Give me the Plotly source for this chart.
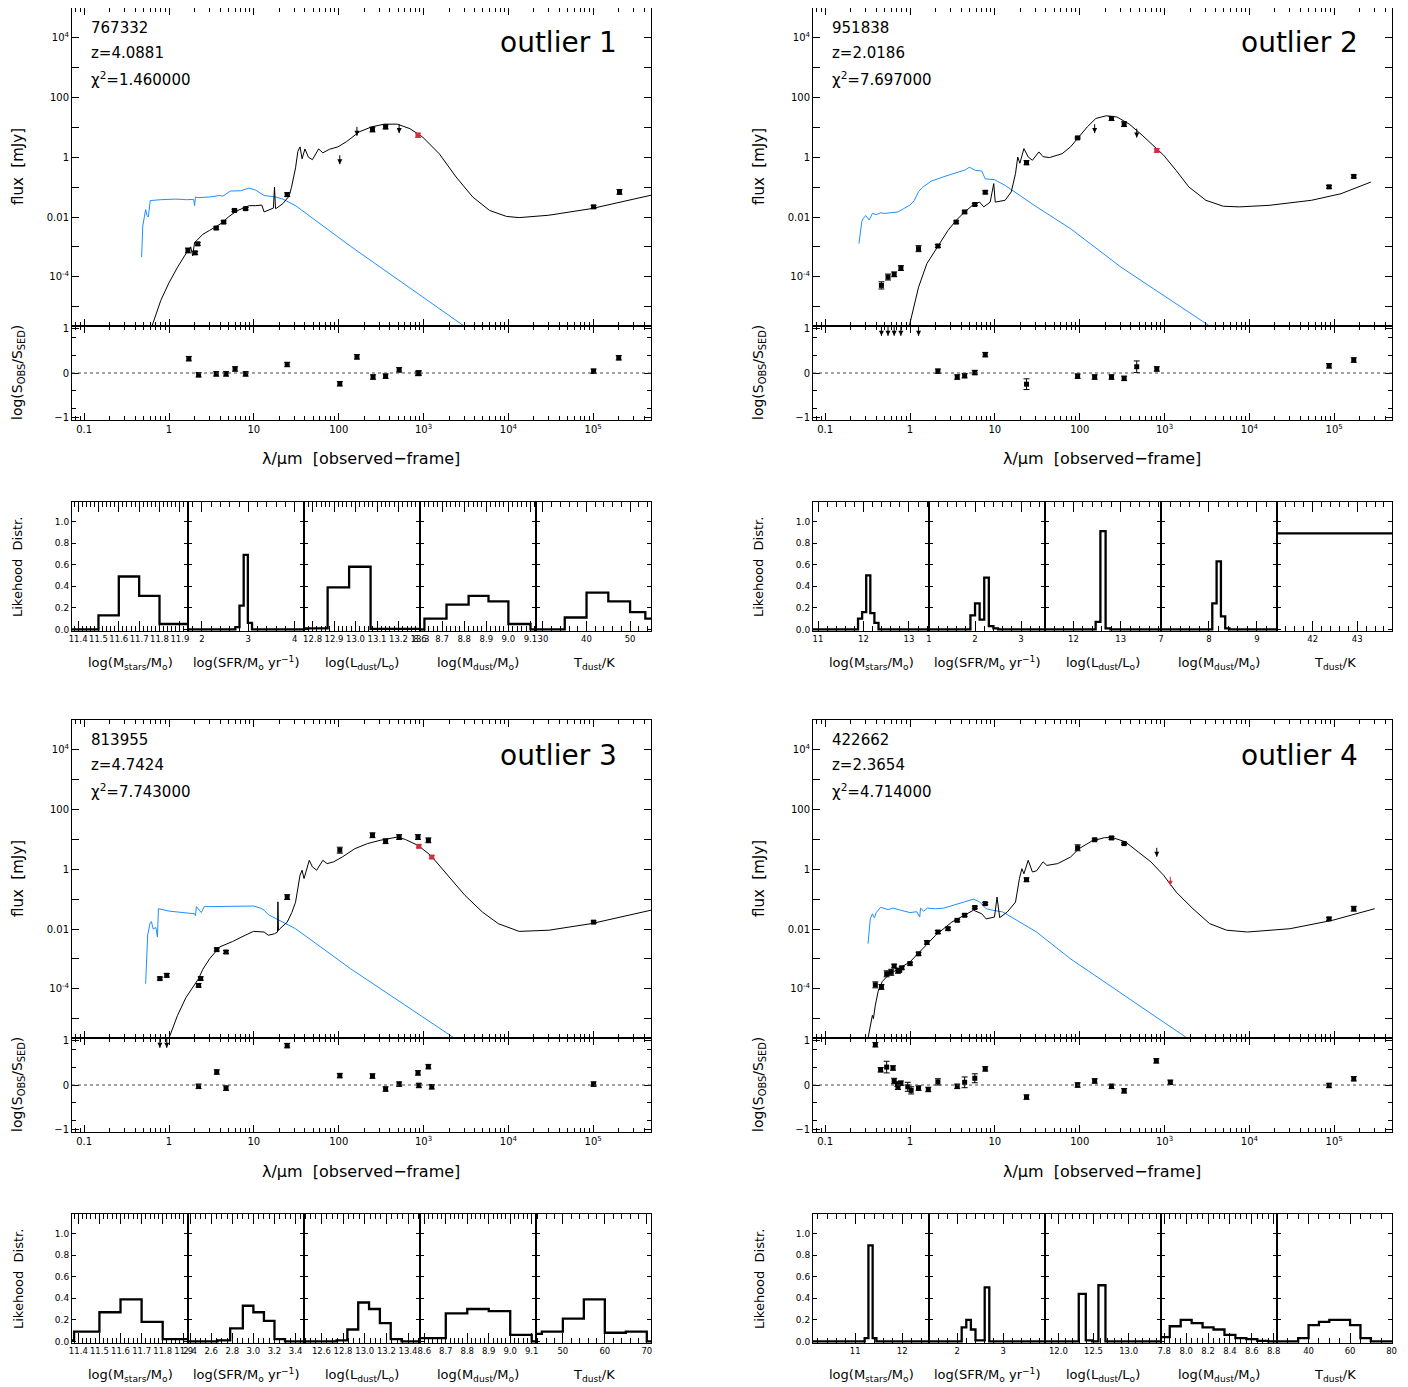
import numpy as np
import plotly.graph_objects as go

# page body has an 8px default margin: the figure is drawn 8px smaller and all
# layout positions below are given in page pixels, shifted by that margin
PAGE_W, PAGE_H = 1408, 1387
OFF = 8
W, H = PAGE_W - OFF, PAGE_H - OFF
FONT = "DejaVu Sans"
BLUE = "#1E8FFF"
RED = "#D0303C"

# ------------------------------------------------------------------ labels
ids = ["767332", "951838", "813955", "422662"]
zvals = ["4.0881", "2.0186", "4.7424", "2.3654"]
chi2vals = ["1.460000", "7.697000", "7.743000", "4.714000"]
names = ["outlier 1", "outlier 2", "outlier 3", "outlier 4"]
hist_titles = ["log(M<sub>stars</sub>/M<sub>o</sub>)", "log(SFR/M<sub>o</sub> yr<sup>−1</sup>)",
               "log(L<sub>dust</sub>/L<sub>o</sub>)", "log(M<sub>dust</sub>/M<sub>o</sub>)", "T<sub>dust</sub>/K"]
sed_xticks = [0.1, 1, 10, 100, 1e3, 1e4, 1e5]
sed_xtext = ["0.1", "1", "10", "100", "10<sup>3</sup>", "10<sup>4</sup>", "10<sup>5</sup>"]

# ------------------------------------------------------------------ outlier 1
blue1_lam = [0.475, 0.49, 0.53, 0.55, 0.57, 0.6, 0.8, 1.2, 1.6, 1.95, 2.0, 2.05, 2.2, 3.0, 3.9, 4.3, 5.3, 7.0, 8.8, 10.5, 13.2, 18, 22, 31, 138, 3000]
blue1_logf = [-3.34, -2.3, -1.75, -1.95, -2.0, -1.45, -1.42, -1.40, -1.42, -1.41, -1.62, -1.33, -1.35, -1.33, -1.28, -1.30, -1.13, -1.12, -1.03, -1.10, -1.28, -1.33, -1.40, -1.62, -2.98, -5.65]
sed1_lam = [0.63, 0.8, 1.0, 1.26, 1.58, 1.8, 1.9, 2.0, 2.1, 2.5, 3.0, 3.5, 4.2, 5.0, 6.25, 7.5, 8.8, 10.5, 12.4, 13.2, 15.6, 17.0, 17.5, 18.0, 18.6, 22, 26, 27.8, 31, 33, 35, 37, 40, 44, 49, 58, 65, 78, 98, 123, 174, 245, 345, 490, 690, 975, 1530, 2420, 3800, 6000, 9500, 13400, 30000, 95000, 480000]
sed1_logf = [-5.65, -4.79, -4.2, -3.68, -3.23, -3.0, -3.3, -2.85, -2.8, -2.58, -2.45, -2.34, -2.2, -2.0, -1.8, -1.7, -1.62, -1.62, -1.6, -1.83, -1.75, -1.7, -1.0, -1.72, -1.7, -1.55, -1.3, -1.0, -0.35, 0.2, 0.35, -0.05, 0.28, 0.0, -0.08, 0.28, 0.15, 0.27, 0.35, 0.52, 0.85, 1.02, 1.11, 1.11, 0.96, 0.68, 0.12, -0.66, -1.33, -1.78, -1.98, -2.02, -1.94, -1.72, -1.27]
obs1_lam = [1.67, 2.03, 2.18, 3.6, 4.4, 5.9, 8.0, 24.7, 250, 357, 1.01e5, 2.04e5]
obs1_logf = [-3.12, -3.2, -2.9, -2.37, -2.17, -1.78, -1.72, -1.25, 0.93, 1.02, -1.66, -1.16]
obs1_err = [0.08, 0.05, 0.05, 0.04, 0.04, 0.04, 0.04, 0.06, 0.08, 0.07, 0.05, 0.08]
ul1_lam = [103, 164, 516]
ul1_logf = [0.07, 1.02, 1.11]
red1_lam = [860]
red1_logf = [0.74]
red1_err = [0.07]
redul1_lam, redul1_logf = [], []
res1_lam = [1.71, 2.23, 3.6, 4.7, 6.0, 8.0, 24.7, 103, 164, 254, 357, 516, 860, 880, 1.01e5, 2.0e5]
res1_val = [0.32, -0.04, -0.02, -0.02, 0.09, -0.02, 0.19, -0.24, 0.36, -0.09, -0.07, 0.07, -0.01, 0.0, 0.04, 0.34]
res1_err = [0.05] * 16
resul1_lam = []
hist1_range = [[11.37, 11.94], [1.7, 4.2], [12.76, 13.3], [8.6, 9.125], [28.4, 54.8]]
hist1_ticks = [[11.4, 11.5, 11.6, 11.7, 11.8, 11.9], [2, 3, 4], [12.8, 12.9, 13.0, 13.1, 13.2, 13.3], [8.6, 8.7, 8.8, 8.9, 9.0, 9.1], [30, 40, 50]]
hist1_minor = [0.02, 0.2, 0.02, 0.02, 2]
hist1_edges = [[11.37, 11.5, 11.6, 11.7, 11.8, 11.94], [1.7, 2.72, 2.81, 2.9, 2.99, 3.08, 4.2],
               [12.76, 12.87, 12.97, 13.07, 13.3], [8.6, 8.62, 8.72, 8.82, 8.91, 9.0, 9.1, 9.125],
               [28.4, 35, 40, 45, 50, 53.5, 54.8]]
hist1_vals = [[0.0, 0.13, 0.49, 0.31, 0.05], [0.0, 0.02, 0.22, 0.69, 0.06, 0.0],
              [0.01, 0.39, 0.58, 0.005], [0.0, 0.1, 0.23, 0.31, 0.26, 0.05, 0.0],
              [0.0, 0.11, 0.34, 0.26, 0.16, 0.10]]

# ------------------------------------------------------------------ outlier 2
blue2_lam = [0.25, 0.27, 0.28, 0.30, 0.33, 0.36, 0.4, 0.45, 0.5, 0.6, 0.72, 0.84, 1.0, 1.12, 1.26, 1.41, 1.78, 2.5, 3.5, 4.5, 5.0, 5.9, 7.0, 7.7, 9.9, 13.2, 31, 78, 307, 3400]
blue2_logf = [-2.89, -2.15, -2.05, -1.95, -2.1, -1.88, -1.92, -1.86, -1.88, -1.85, -1.83, -1.72, -1.6, -1.45, -1.15, -1.0, -0.8, -0.65, -0.53, -0.42, -0.33, -0.44, -0.46, -0.72, -0.75, -0.94, -1.66, -2.39, -3.68, -5.65]
sed2_lam = [0.98, 1.12, 1.26, 1.58, 2.1, 2.8, 3.5, 4.4, 5.6, 6.6, 7.4, 8.8, 9.7, 10.1, 13.2, 15.6, 17.5, 18.6, 19.7, 22, 24.7, 27.7, 33, 37, 44, 62, 78, 98, 123, 155, 205, 275, 384, 545, 770, 975, 1370, 1930, 3070, 4930, 7600, 17000, 54000, 120000, 270000]
sed2_logf = [-5.65, -5.0, -4.35, -3.56, -3.0, -2.45, -2.11, -1.83, -1.58, -1.5, -1.66, -1.5, -0.88, -1.5, -1.44, -1.16, -0.55, 0.01, -0.2, 0.29, 0.01, -0.1, 0.18, 0.02, -0.01, 0.12, 0.35, 0.68, 1.02, 1.3, 1.39, 1.35, 1.11, 0.74, 0.35, 0.07, -0.44, -0.99, -1.44, -1.64, -1.66, -1.61, -1.44, -1.22, -0.83]
obs2_lam = [0.46, 0.55, 0.65, 0.78, 1.26, 2.13, 3.5, 4.4, 5.8, 7.7, 23.6, 94.5, 237, 334, 87000, 170000]
obs2_logf = [-4.29, -4.01, -3.92, -3.71, -3.06, -2.97, -2.17, -1.83, -1.58, -1.17, -0.18, 0.65, 1.3, 1.11, -0.99, -0.64]
obs2_err = [0.12, 0.1, 0.08, 0.08, 0.1, 0.05, 0.04, 0.04, 0.04, 0.05, 0.07, 0.03, 0.07, 0.08, 0.05, 0.05]
ul2_lam = [150, 470]
ul2_logf = [1.11, 0.96]
red2_lam = [810]
red2_logf = [0.23]
red2_err = [0.06]
redul2_lam, redul2_logf = [], []
res2_lam = [2.13, 3.6, 4.4, 5.8, 7.7, 23.6, 94.5, 150, 237, 334, 470, 810, 87000, 170000]
res2_val = [0.04, -0.09, -0.06, 0.01, 0.41, -0.25, -0.07, -0.09, -0.09, -0.12, 0.14, 0.09, 0.16, 0.29]
res2_err = [0.05, 0.05, 0.05, 0.05, 0.05, 0.12, 0.05, 0.05, 0.05, 0.05, 0.13, 0.05, 0.05, 0.05]
resul2_lam = [0.46, 0.55, 0.65, 0.78, 1.26]
hist2_range = [[10.89, 13.44], [1.0, 3.52], [11.4, 13.85], [7.0, 9.42], [41.2, 43.78]]
hist2_ticks = [[11, 12, 13], [1, 2, 3], [12, 13], [7, 8, 9], [42, 43]]
hist2_minor = [0.2, 0.2, 0.2, 0.2, 0.2]
hist2_edges = [[10.89, 11.88, 11.97, 12.06, 12.15, 12.24, 12.33, 13.44], [1.0, 1.9, 2.0, 2.1, 2.2, 2.3, 2.4, 2.5, 3.52],
               [11.4, 12.47, 12.57, 12.68, 12.78, 13.85], [7.0, 8.07, 8.16, 8.25, 8.34, 8.43, 9.42], [41.2, 43.78]]
hist2_vals = [[0, 0.1, 0.16, 0.5, 0.15, 0.06, 0], [0, 0.13, 0.24, 0.09, 0.48, 0.03, 0.01, 0],
              [0, 0.07, 0.91, 0.01, 0], [0, 0.24, 0.63, 0.12, 0.01, 0], [0.89]]

# ------------------------------------------------------------------ outlier 3
blue3_lam = [0.53, 0.545, 0.56, 0.6, 0.62, 0.65, 0.7, 0.73, 0.735, 0.75, 1.0, 1.5, 2.0, 2.05, 2.1, 2.4, 2.6, 3.0, 3.95, 5.6, 9.9, 12.0, 13.2, 14.8, 19.7, 31, 138, 2300]
blue3_logf = [-3.83, -2.6, -2.2, -1.78, -1.75, -2.0, -1.95, -2.27, -1.32, -1.32, -1.4, -1.45, -1.49, -1.55, -1.25, -1.45, -1.25, -1.25, -1.24, -1.23, -1.23, -1.3, -1.37, -1.52, -1.70, -1.99, -3.33, -5.65]
sed3_lam = [1.0, 1.26, 1.58, 2.0, 2.23, 2.5, 3.0, 3.95, 5.6, 7.9, 9.9, 13.2, 14.8, 17.5, 19.0, 19.2, 19.5, 20.1, 24.7, 28, 31, 35, 37, 39, 45, 49, 55, 65, 73, 87, 110, 155, 218, 307, 490, 610, 860, 1210, 1930, 3070, 4930, 7600, 13400, 30000, 95000, 480000]
sed3_logf = [-5.65, -4.89, -4.3, -3.85, -3.66, -3.35, -3.0, -2.6, -2.42, -2.21, -2.08, -2.1, -2.21, -2.16, -2.1, -1.09, -2.05, -2.0, -1.77, -1.45, -1.1, -0.2, -0.03, -0.31, 0.3, 0.08, -0.03, 0.3, 0.19, 0.25, 0.41, 0.69, 0.86, 0.97, 1.08, 1.0, 0.8, 0.47, -0.2, -0.87, -1.43, -1.82, -2.08, -2.04, -1.82, -1.37]
obs3_lam = [0.78, 0.94, 2.23, 2.36, 3.65, 4.7, 24.7, 103, 250, 357, 516, 860, 1140, 1.01e5]
obs3_logf = [-3.66, -3.55, -3.89, -3.66, -2.69, -2.77, -0.93, 0.64, 1.14, 0.94, 1.08, 1.08, 0.97, -1.77]
obs3_err = [0.05, 0.06, 0.06, 0.06, 0.05, 0.05, 0.08, 0.1, 0.08, 0.08, 0.08, 0.08, 0.08, 0.04]
ul3_lam, ul3_logf = [], []
red3_lam = [880, 1250]
red3_logf = [0.77, 0.41]
red3_err = [0.05, 0.05]
redul3_lam, redul3_logf = [], []
res3_lam = [2.23, 3.65, 4.7, 24.7, 103, 250, 357, 516, 860, 880, 1140, 1250, 1.01e5]
res3_val = [-0.03, 0.29, -0.07, 0.88, 0.21, 0.2, -0.09, 0.02, 0.27, -0.01, 0.41, -0.04, 0.02]
res3_err = [0.05] * 13
resul3_lam = [0.78, 0.94]
hist3_range = [[11.37, 11.92], [2.38, 3.48], [12.44, 13.51], [8.58, 9.12], [43.6, 71]]
hist3_ticks = [[11.4, 11.5, 11.6, 11.7, 11.8, 11.9], [2.4, 2.6, 2.8, 3.0, 3.2, 3.4], [12.6, 12.8, 13.0, 13.2, 13.4], [8.6, 8.7, 8.8, 8.9, 9.0, 9.1], [50, 60, 70]]
hist3_minor = [0.02, 0.05, 0.05, 0.02, 2]
hist3_edges = [[11.37, 11.38, 11.5, 11.6, 11.7, 11.8, 11.92], [2.38, 2.66, 2.78, 2.9, 3.0, 3.1, 3.2, 3.3, 3.48],
               [12.44, 12.74, 12.84, 12.94, 13.04, 13.14, 13.24, 13.34, 13.51], [8.58, 8.7, 8.8, 8.9, 9.0, 9.1, 9.12],
               [43.6, 45, 50, 55, 60, 65, 70, 71]]
hist3_vals = [[0.01, 0.09, 0.27, 0.39, 0.18, 0.02], [0, 0.01, 0.12, 0.33, 0.27, 0.19, 0.02, 0],
              [0, 0.01, 0.11, 0.36, 0.30, 0.17, 0.02, 0], [0.03, 0.26, 0.30, 0.28, 0.06, 0],
              [0.07, 0.09, 0.21, 0.39, 0.08, 0.09, 0]]

# ------------------------------------------------------------------ outlier 4
blue4_lam = [0.32, 0.33, 0.34, 0.36, 0.38, 0.4, 0.45, 0.55, 0.63, 0.8, 1.0, 1.2, 1.3, 1.33, 1.45, 1.6, 2.0, 2.5, 3.1, 4.4, 5.6, 6.6, 7.9, 9.0, 12.4, 31, 78, 1840]
blue4_logf = [-2.49, -1.95, -1.66, -1.49, -1.62, -1.45, -1.27, -1.35, -1.3, -1.38, -1.45, -1.42, -1.6, -1.3, -1.4, -1.3, -1.32, -1.3, -1.21, -1.09, -1.0, -1.09, -1.32, -1.36, -1.43, -2.1, -3.0, -5.65]
sed4_lam = [0.32, 0.34, 0.36, 0.37, 0.39, 0.42, 0.47, 0.56, 0.75, 1.0, 1.41, 2.0, 3.1, 4.4, 5.6, 7.0, 7.9, 9.9, 10.6, 11.4, 14, 17.5, 19.5, 20.8, 22, 24.7, 27.7, 31, 37, 41, 55, 78, 98, 138, 195, 245, 345, 490, 690, 975, 1370, 2160, 3400, 5400, 9500, 30000, 95000, 300000]
sed4_logf = [-5.65, -5.2, -4.89, -5.0, -4.55, -4.1, -3.76, -3.53, -3.3, -3.1, -2.66, -2.21, -1.77, -1.54, -1.37, -1.49, -1.66, -1.6, -0.93, -1.62, -1.43, -1.1, -0.3, 0.02, -0.15, 0.3, -0.09, -0.05, 0.25, 0.13, 0.19, 0.41, 0.69, 0.94, 1.06, 1.06, 0.92, 0.58, 0.25, -0.2, -0.76, -1.32, -1.82, -2.04, -2.1, -1.99, -1.71, -1.32]
obs4_lam = [0.39, 0.46, 0.53, 0.6, 0.65, 0.72, 0.75, 0.8, 1.0, 1.26, 1.58, 2.13, 2.8, 3.6, 4.4, 5.8, 7.7, 23.6, 94.5, 150, 237, 334, 87000, 170000]
obs4_logf = [-3.87, -3.94, -3.5, -3.45, -3.24, -3.4, -3.38, -3.3, -3.16, -2.83, -2.45, -2.1, -1.99, -1.71, -1.54, -1.28, -1.15, -0.35, 0.72, 0.99, 1.05, 0.86, -1.66, -1.32]
obs4_err = [0.1, 0.08, 0.1, 0.1, 0.06, 0.08, 0.06, 0.05, 0.05, 0.05, 0.06, 0.05, 0.05, 0.04, 0.04, 0.04, 0.04, 0.06, 0.1, 0.03, 0.05, 0.03, 0.05, 0.08]
ul4_lam = [810]
ul4_logf = [0.72]
red4_lam, red4_logf, red4_err = [], [], []
redul4_lam = [1170]
redul4_logf = [-0.25]
res4_lam = [0.39, 0.45, 0.53, 0.63, 0.65, 0.71, 0.72, 0.78, 0.94, 1.03, 1.26, 1.64, 2.13, 3.6, 4.4, 5.8, 7.7, 23.6, 94.5, 150, 237, 334, 800, 1170, 87000, 170000]
res4_val = [0.9, 0.34, 0.4, 0.38, 0.09, 0.02, -0.05, 0.04, -0.04, -0.12, -0.07, -0.1, 0.07, -0.03, 0.06, 0.15, 0.36, -0.27, 0.0, 0.09, -0.03, -0.13, 0.54, 0.06, -0.01, 0.14]
res4_err = [0.05, 0.05, 0.13, 0.05, 0.06, 0.05, 0.05, 0.05, 0.1, 0.08, 0.05, 0.05, 0.07, 0.05, 0.12, 0.1, 0.05, 0.05, 0.05, 0.05, 0.05, 0.05, 0.05, 0.05, 0.05, 0.05]
resul4_lam = []
hist4_range = [[10.1, 12.57], [1.39, 3.91], [11.81, 13.46], [7.77, 8.83], [24.8, 80.2]]
hist4_ticks = [[11, 12], [2, 3], [12.0, 12.5, 13.0], [7.8, 8.0, 8.2, 8.4, 8.6, 8.8], [40, 60, 80]]
hist4_minor = [0.2, 0.2, 0.1, 0.05, 5]
hist4_edges = [[10.1, 11.2, 11.28, 11.37, 11.45, 12.57], [1.39, 2.1, 2.2, 2.3, 2.4, 2.5, 2.6, 2.7, 3.91],
               [11.81, 12.29, 12.39, 12.48, 12.57, 12.67, 13.46],
               [7.77, 7.85, 7.95, 8.05, 8.15, 8.25, 8.35, 8.45, 8.55, 8.65, 8.75, 8.83],
               [24.8, 35, 40, 45, 50, 55, 60, 65, 70, 80.2]]
hist4_vals = [[0, 0.03, 0.89, 0.03, 0], [0, 0.13, 0.2, 0.11, 0.01, 0.01, 0.5, 0],
              [0, 0.44, 0.01, 0, 0.52, 0], [0.04, 0.14, 0.2, 0.17, 0.13, 0.11, 0.06, 0.03, 0.02, 0.005, 0],
              [0, 0.03, 0.15, 0.18, 0.2, 0.2, 0.15, 0.03, 0]]

outliers = [
    dict(blue=(blue1_lam, blue1_logf), sed=(sed1_lam, sed1_logf), obs=(obs1_lam, obs1_logf, obs1_err),
         ul=(ul1_lam, ul1_logf), red=(red1_lam, red1_logf, red1_err), redul=(redul1_lam, redul1_logf),
         res=(res1_lam, res1_val, res1_err), resul=resul1_lam,
         hr=hist1_range, ht=hist1_ticks, hm=hist1_minor, he=hist1_edges, hv=hist1_vals),
    dict(blue=(blue2_lam, blue2_logf), sed=(sed2_lam, sed2_logf), obs=(obs2_lam, obs2_logf, obs2_err),
         ul=(ul2_lam, ul2_logf), red=(red2_lam, red2_logf, red2_err), redul=(redul2_lam, redul2_logf),
         res=(res2_lam, res2_val, res2_err), resul=resul2_lam,
         hr=hist2_range, ht=hist2_ticks, hm=hist2_minor, he=hist2_edges, hv=hist2_vals),
    dict(blue=(blue3_lam, blue3_logf), sed=(sed3_lam, sed3_logf), obs=(obs3_lam, obs3_logf, obs3_err),
         ul=(ul3_lam, ul3_logf), red=(red3_lam, red3_logf, red3_err), redul=(redul3_lam, redul3_logf),
         res=(res3_lam, res3_val, res3_err), resul=resul3_lam,
         hr=hist3_range, ht=hist3_ticks, hm=hist3_minor, he=hist3_edges, hv=hist3_vals),
    dict(blue=(blue4_lam, blue4_logf), sed=(sed4_lam, sed4_logf), obs=(obs4_lam, obs4_logf, obs4_err),
         ul=(ul4_lam, ul4_logf), red=(red4_lam, red4_logf, red4_err), redul=(redul4_lam, redul4_logf),
         res=(res4_lam, res4_val, res4_err), resul=resul4_lam,
         hr=hist4_range, ht=hist4_ticks, hm=hist4_minor, he=hist4_edges, hv=hist4_vals),
]

# ------------------------------------------------------------------ helpers
fig = go.Figure()
lay = dict(width=W, height=H, margin=dict(l=0, r=0, t=0, b=0, pad=0, autoexpand=False),
           autosize=False, paper_bgcolor="white",
           plot_bgcolor="white", showlegend=False, hovermode=False, annotations=[], shapes=[])
naxes = [0]


def px2x(x):
    return (x - OFF) / W


def px2y(y):
    return 1 - (y - OFF) / H


def axis_style(**kw):
    d = dict(showline=True, linecolor="black", linewidth=1, mirror="ticks", ticks="inside",
             tickcolor="black", tickwidth=1, showgrid=False, zeroline=False, layer="above traces",
             tickangle=0, automargin=False,
             tickfont=dict(family=FONT, size=10, color="black"))
    d.update(kw)
    return d


def new_axes(x0, x1, y0, y1, xa, ya):
    naxes[0] += 1
    n = naxes[0]
    s = "" if n == 1 else str(n)
    lay["xaxis" + s] = dict(domain=[px2x(x0), px2x(x1)], anchor="y" + s, **xa)
    lay["yaxis" + s] = dict(domain=[px2y(y1), px2y(y0)], anchor="x" + s, **ya)
    return "x" + s, "y" + s


def text(x, y, s, size, xanchor="center", angle=0):
    lay["annotations"].append(dict(x=px2x(x), y=px2y(y), xref="paper", yref="paper", text=s,
                                   showarrow=False, xanchor=xanchor, yanchor="middle", textangle=angle,
                                   font=dict(family=FONT, size=size, color="black")))


def logerr(logf, err):
    f = 10 ** np.asarray(logf, float)
    e = np.asarray(err, float)
    return f, f * (10 ** e - 1), f * (1 - 10 ** (-e))


def fmt_ticks(vals):
    if all(abs(v - round(v)) < 1e-9 for v in vals):
        return [str(int(round(v))) for v in vals]
    return [f"{v:.1f}" for v in vals]


def add_arrows(lams, tops, bottoms, color, xa, ya):
    """Upper-limit arrows: vertical stem plus downward arrow head."""
    xs, ys = [], []
    for l, t, b in zip(lams, tops, bottoms):
        xs += [l, l, None]
        ys += [t, b, None]
    fig.add_trace(go.Scatter(x=xs, y=ys, mode="lines", line=dict(color=color, width=1), xaxis=xa, yaxis=ya))
    fig.add_trace(go.Scatter(x=list(lams), y=list(bottoms), mode="markers", xaxis=xa, yaxis=ya,
                             marker=dict(symbol="arrow-down", size=5, color=color, line=dict(width=0))))


XRANGE = [np.log10(0.0718), np.log10(4.8e5)]
XMIN = [m * 10.0 ** e for e in range(-2, 6) for m in range(2, 10)
        if 0.0718 < m * 10.0 ** e < 4.8e5]
YMAJ = [10.0 ** k for k in range(-5, 6)]
YTXT_MAP = {4: "10<sup>4</sup>", 2: "100", 0: "1", -2: "0.01", -4: "10<sup>-4</sup>"}
YTXT = [YTXT_MAP.get(k, "") for k in range(-5, 6)]
HIST_REL = [0, 116, 232, 348, 464, 579]
ARROW_DEX = 0.3

for k, od in enumerate(outliers):
    dx = [72, 813, 72, 813][k]
    dy = [0, 0, 712, 712][k]

    # ---------------- SED panel
    xs, ys = new_axes(dx, dx + 579, dy + 8, dy + 326,
                      axis_style(type="log", range=XRANGE, tickmode="array", tickvals=sed_xticks,
                                 showticklabels=False, ticklen=7,
                                 minor=dict(tickmode="array", tickvals=XMIN, ticklen=4, ticks="inside",
                                            tickcolor="black")),
                      axis_style(type="log", range=[-5.65, 5.0], tickmode="array", tickvals=YMAJ,
                                 ticktext=YTXT, ticklen=7))
    bl, bf = od["blue"]
    fig.add_trace(go.Scatter(x=bl, y=10 ** np.asarray(bf), mode="lines", line=dict(color=BLUE, width=1),
                             xaxis=xs, yaxis=ys))
    sl, sf = od["sed"]
    fig.add_trace(go.Scatter(x=sl, y=10 ** np.asarray(sf), mode="lines", line=dict(color="black", width=1),
                             xaxis=xs, yaxis=ys))
    ol, of_, oe = od["obs"]
    f, up, dn = logerr(of_, oe)
    fig.add_trace(go.Scatter(x=ol, y=f, mode="markers", xaxis=xs, yaxis=ys,
                             marker=dict(symbol="square", size=5, color="black"),
                             error_y=dict(type="data", symmetric=False, array=up, arrayminus=dn,
                                          color="black", thickness=1, width=3)))
    rl, rf, re_ = od["red"]
    if rl:
        f, up, dn = logerr(rf, re_)
        fig.add_trace(go.Scatter(x=rl, y=f, mode="markers", xaxis=xs, yaxis=ys,
                                 marker=dict(symbol="square", size=5, color=RED),
                                 error_y=dict(type="data", symmetric=False, array=up, arrayminus=dn,
                                              color=RED, thickness=1, width=3)))
    ul, uf = od["ul"]
    if ul:
        tops = 10 ** np.asarray(uf)
        add_arrows(ul, tops, tops * 10 ** -ARROW_DEX, "black", xs, ys)
    rul, ruf = od["redul"]
    if rul:
        tops = 10 ** np.asarray(ruf)
        add_arrows(rul, tops, tops * 10 ** -ARROW_DEX, RED, xs, ys)

    # ---------------- residual panel
    xr, yr = new_axes(dx, dx + 579, dy + 326, dy + 420,
                      axis_style(type="log", range=XRANGE, tickmode="array", tickvals=sed_xticks,
                                 ticktext=sed_xtext, ticklen=7,
                                 minor=dict(tickmode="array", tickvals=XMIN, ticklen=4, ticks="inside",
                                            tickcolor="black")),
                      axis_style(range=[-1.05, 1.05], tickmode="array", tickvals=[-1, 0, 1],
                                 ticktext=["−1", "0", "1"], ticklen=7,
                                 minor=dict(tickmode="array", tickvals=[-0.8, -0.4, 0.4, 0.8], ticklen=4,
                                            ticks="inside", tickcolor="black")))
    lay["shapes"].append(dict(type="line", xref=xr + " domain", yref=yr, x0=0, x1=1, y0=0, y1=0,
                              line=dict(color="#444444", width=1, dash="dot")))
    resl, resv, rese = od["res"]
    fig.add_trace(go.Scatter(x=resl, y=resv, mode="markers", xaxis=xr, yaxis=yr,
                             marker=dict(symbol="square", size=5, color="black"),
                             error_y=dict(type="data", array=rese, color="black", thickness=1, width=3)))
    if od["resul"]:
        n = len(od["resul"])
        add_arrows(od["resul"], [1.05] * n, [0.83] * n, "black", xr, yr)

    # ---------------- histograms
    for j in range(5):
        lo, hi = od["hr"][j]
        step = od["hm"][j]
        mvals = [round(v, 4) for v in np.arange(np.ceil(lo / step - 1e-6) * step, hi, step)]
        xh, yh = new_axes(dx + HIST_REL[j], dx + HIST_REL[j + 1], dy + 502, dy + 631,
                          axis_style(range=[lo, hi], tickmode="array", tickvals=od["ht"][j],
                                     ticktext=fmt_ticks(od["ht"][j]), ticklen=10,
                                     tickfont=dict(family=FONT, size=8.5, color="black"),
                                     minor=dict(tickmode="array", tickvals=mvals, ticklen=5, ticks="inside",
                                                tickcolor="black")),
                          axis_style(range=[-0.015, 1.18], tickmode="array",
                                     tickvals=[0, 0.2, 0.4, 0.6, 0.8, 1.0],
                                     ticktext=["0.0", "0.2", "0.4", "0.6", "0.8", "1.0"],
                                     showticklabels=(j == 0), ticklen=4,
                                     tickfont=dict(family=FONT, size=9, color="black")))
        edges = od["he"][j]
        vals = list(od["hv"][j]) + [od["hv"][j][-1]]
        fig.add_trace(go.Scatter(x=edges, y=vals, mode="lines", line=dict(color="black", width=2.3, shape="hv"),
                                 xaxis=xh, yaxis=yh))
        text(dx + (HIST_REL[j] + HIST_REL[j + 1]) / 2, dy + 663, hist_titles[j], 13)

    # ---------------- texts
    text(dx + 17, dy + 28, ids[k], 15, xanchor="left")
    text(dx + 17, dy + 53, "z=" + zvals[k], 15, xanchor="left")
    text(dx + 17, dy + 79, "χ<sup>2</sup>=" + chi2vals[k], 15, xanchor="left")
    text(dx + 547, dy + 43, names[k], 28, xanchor="right")
    text(dx - 54, dy + 167, "flux  [mJy]", 15, angle=-90)
    text(dx - 54, dy + 373, "log(S<sub>OBS</sub>/S<sub>SED</sub>)", 14, angle=-90)
    text(dx + 289, dy + 459, "λ/μm  [observed−frame]", 16)
    text(dx - 54, dy + 567, "Likehood  Distr.", 13, angle=-90)

fig.update_layout(**lay)
fig.update_traces(hoverinfo="skip", showlegend=False)
fig.write_html("out.html")
